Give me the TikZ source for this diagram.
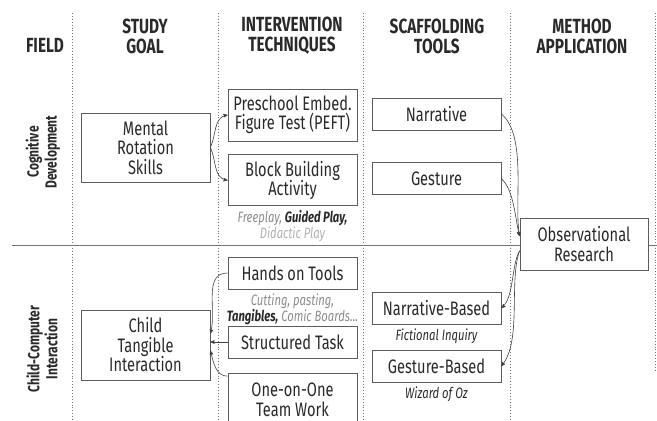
\documentclass[tikz,border=0pt]{standalone}
\usepackage{fontspec}
\setmainfont{Fira Sans}[FakeStretch=0.75]
\usetikzlibrary{positioning}
\usetikzlibrary{arrows}
\definecolor{boxgray}{HTML}{5C5C5C}
\definecolor{inkgray}{HTML}{2A2A2A}
\definecolor{notegray}{HTML}{8C8C8C}
\definecolor{palegray}{HTML}{B0B0B0}

\begin{document}
\begin{tikzpicture}
    [x=1pt, y=-1pt,
    node distance=13pt and 15pt,
    head/.style={align=center,
                 text=inkgray,
                 font=\bfseries\fontsize{20.5}{20}\selectfont},
    rowlab/.style={align=center,
                   rotate=90,
                   text=inkgray,
                   font=\bfseries\fontsize{16}{18}\selectfont},
    box/.style={rectangle,
                draw=boxgray,
                fill=white,
                line width=0.8pt,
                inner sep=1mm,
                minimum width=129pt,
                minimum height=32pt,
                align=center,
                text=inkgray,
                font=\fontsize{19.5}{19.5}\selectfont},
    note/.style={align=center,
                 inner sep=0pt,
                 text=notegray,
                 font=\itshape\fontsize{15}{13.5}\selectfont},
    link/.style={->,
                 >=stealth',
                 black!75,
                 line width=0.6pt},
    sep/.style={black!55,
                dotted,
                line width=0.9pt}]
    \useasboundingbox (0,0) rectangle (657,421);

    % column and row separators
    \foreach \xs in {72,218,363,510}
        \draw[sep] (\xs,13) -- (\xs,421);
    \draw[sep] (655,13) -- (655,370);
    \draw[black!55, line width=0.8pt] (12,245) -- (657,245);

    % headings
    \node[head] (fieldH) at (45,45) {FIELD};
    \node[head] (goalH) at (145,36) {STUDY\\GOAL};
    \node[head] (techH) at (292,36) {INTERVENTION\\TECHNIQUES};
    \node[head] (toolH) at (437,36) {SCAFFOLDING\\TOOLS};
    \node[head] (methodH) at (582,36) {METHOD\\APPLICATION};
    \node[rowlab] (cogL) at (43,152) {Cognitive\\Development};
    \node[rowlab] (cciL) at (42,349) {Child-Computer\\Interaction};

    % cognitive development
    \node[box,
          minimum height=69pt] (Mental) at (145.5,147.5) {Mental\\Rotation\\Skills};
    \node[box,
          minimum height=52pt] (PEFT) at (292.5,115) {Preschool Embed.\\Figure Test (PEFT)};
    \node[box,
          minimum height=51pt,
          below=13pt of PEFT] (Block) {Block Building\\Activity};
    \node[note,
          below=4pt of Block] (BlockNote) {Freeplay, {\bfseries\color{inkgray}Guided Play,}\\{\color{palegray}Didactic Play}};
    \node[box] (Narr) at (436.5,114) {Narrative};
    \node[box,
          below=32pt of Narr] (Gest) {Gesture};

    % method
    \node[box,
          minimum width=128pt,
          minimum height=52pt] (Obs) at (584,244) {Observational\\Research};

    % child-computer interaction
    \node[box] (Hands) at (292.5,273) {Hands on Tools};
    \node[note,
          below=4pt of Hands] (HandsNote) {Cutting, pasting,\\{\bfseries\color{inkgray}Tangibles,} Comic Boards...};
    \node[box] (Struct) at (292.5,342) {Structured Task};
    \node[box,
          minimum height=52pt,
          below=15pt of Struct] (Team) {One-on-One\\Team Work};
    \node[box,
          minimum height=70pt] (CTI) at (145.5,345) {Child\\Tangible\\Interaction};
    \node[box] (NarrB) at (436.5,308) {Narrative-Based};
    \node[note,
          text=inkgray,
          below=4pt of NarrB] (NarrBNote) {Fictional Inquiry};
    \node[box] (GestB) at (436.5,366) {Gesture-Based};
    \node[note,
          text=inkgray,
          below=4pt of GestB] (GestBNote) {Wizard of Oz};

    % connectors
    \draw[link] (Mental.east) to[out=65,in=190] (PEFT.west);
    \draw[link] (Mental.east) to[out=-65,in=170] (Block.west);
    \draw[link] (Narr.east) to[out=-40,in=100,looseness=0.7] (Obs.173);
    \draw[link] (Gest.east) to[out=-40,in=105,looseness=0.7] (Obs.173);
    \draw[link] (Obs.186) to[out=240,in=40,looseness=0.7] (NarrB.east);
    \draw[link] (Obs.186) to[out=250,in=50,looseness=0.7] (GestB.east);
    \draw[link] (Hands.west) to[out=180,in=75] (CTI.10);
    \draw[link] (Struct.west) -- (Struct.west -| CTI.east);
    \draw[link] (Team.160) to[out=180,in=-75] (CTI.-5);
\end{tikzpicture}
\end{document}
